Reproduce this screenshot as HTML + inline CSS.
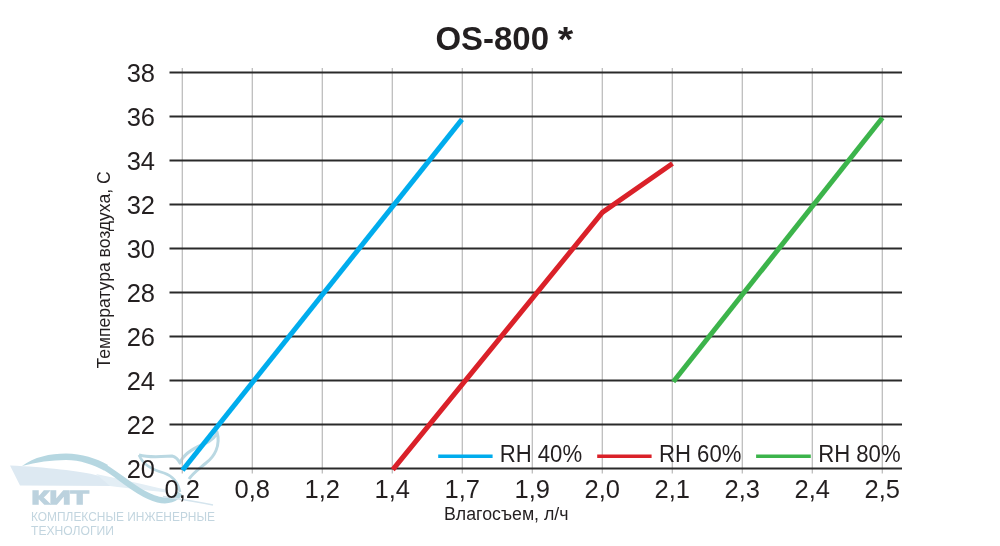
<!DOCTYPE html>
<html><head><meta charset="utf-8">
<style>
html,body{margin:0;padding:0;background:#fff;width:1000px;height:546px;overflow:hidden}
svg{display:block;will-change:transform}
text{font-family:"Liberation Sans",sans-serif;fill:#231f20}
</style></head>
<body>
<svg width="1000" height="546" viewBox="0 0 1000 546">
<!-- watermark logo -->
<g id="logo">
  <path d="M10,465.5 C45,467 80,471 98,475.5 C105,478 111,482 115,486 L20,485.5 Z" fill="#dde9f2"/>
  <path d="M96,474 C125,480 150,486 168,490 L166,492.5 C145,490 125,488 110,486 Z" fill="#e3eef5"/>
  <path d="M22,466 C34,457 50,453.5 66,453.5 C82,454 96,458 108,465 L104,470.5 C94,465 80,460 66,460 C52,460 36,462 22,466 Z" fill="#b6d7e1"/>
  <path d="M105,467.5 C120,476 138,494 158,499.5 C168,502 176,499 180,493" fill="none" stroke="#b6d7e1" stroke-width="6"/>
  <path d="M163,496.5 C180,499 198,502 213,505" fill="none" stroke="#d5e5ee" stroke-width="1.6"/>
  <path d="M139,455 C150,458 162,456.5 172,456 C176,457 178.5,460 180,463 C183,455 194,448 204,444 C211,441 216,437 217,432 C221,446 214,457 206,463 C199,469 193,473 189,479" fill="none" stroke="#bad8e2" stroke-width="3" stroke-linejoin="round"/>
  <path d="M139,455 C143,465 153,470 164,473 C173,476 178,482 180,492" fill="none" stroke="#bad8e2" stroke-width="2.6"/>
  <text x="31.6" y="504" font-size="18.6" font-weight="bold" style="fill:#bcd2de;stroke:#bcd2de;stroke-width:1.3" textLength="57" lengthAdjust="spacingAndGlyphs">КИТ</text>
  <text x="31" y="520.8" font-size="12" style="fill:#c2d5df" textLength="184" lengthAdjust="spacingAndGlyphs">КОМПЛЕКСНЫЕ ИНЖЕНЕРНЫЕ</text>
  <text x="31" y="534.5" font-size="12.5" style="fill:#c2d5df" textLength="83" lengthAdjust="spacingAndGlyphs">ТЕХНОЛОГИИ</text>
</g>
<!-- title -->
<text x="435.5" y="49.6" font-size="33" font-weight="bold" textLength="113.5" lengthAdjust="spacingAndGlyphs">OS-800</text>
<text x="557.8" y="50.5" font-size="35" font-weight="bold" textLength="15.5" lengthAdjust="spacingAndGlyphs">*</text>
<!-- vertical grid -->
<g stroke="#bdbdbd" stroke-width="1.3">
  <line x1="182.3" y1="68" x2="182.3" y2="473.5"/>
  <line x1="252.3" y1="68" x2="252.3" y2="473.5"/>
  <line x1="322.3" y1="68" x2="322.3" y2="473.5"/>
  <line x1="392.3" y1="68" x2="392.3" y2="473.5"/>
  <line x1="462.3" y1="68" x2="462.3" y2="473.5"/>
  <line x1="532.3" y1="68" x2="532.3" y2="473.5"/>
  <line x1="602.3" y1="68" x2="602.3" y2="473.5"/>
  <line x1="672.3" y1="68" x2="672.3" y2="473.5"/>
  <line x1="742.3" y1="68" x2="742.3" y2="473.5"/>
  <line x1="812.3" y1="68" x2="812.3" y2="473.5"/>
  <line x1="882.3" y1="68" x2="882.3" y2="473.5"/>
</g>
<!-- horizontal lines -->
<g stroke="#2a2a2a" stroke-width="1.8">
  <line x1="169.5" y1="72.5" x2="902" y2="72.5"/>
  <line x1="169.5" y1="116.5" x2="902" y2="116.5"/>
  <line x1="169.5" y1="160.5" x2="902" y2="160.5"/>
  <line x1="169.5" y1="204.5" x2="902" y2="204.5"/>
  <line x1="169.5" y1="248.5" x2="902" y2="248.5"/>
  <line x1="169.5" y1="292.5" x2="902" y2="292.5"/>
  <line x1="169.5" y1="336.5" x2="902" y2="336.5"/>
  <line x1="169.5" y1="380.5" x2="902" y2="380.5"/>
  <line x1="169.5" y1="424.5" x2="902" y2="424.5"/>
  <line x1="169.5" y1="468.5" x2="902" y2="468.5"/>
</g>
<!-- y labels -->
<g font-size="25.5" text-anchor="end">
  <text x="155" y="82">38</text>
  <text x="155" y="126">36</text>
  <text x="155" y="170">34</text>
  <text x="155" y="214">32</text>
  <text x="155" y="258">30</text>
  <text x="155" y="302">28</text>
  <text x="155" y="346">26</text>
  <text x="155" y="390">24</text>
  <text x="155" y="434">22</text>
  <text x="155" y="478">20</text>
</g>
<!-- x labels -->
<g font-size="25.5" text-anchor="middle">
  <text x="182.3" y="497.6">0,2</text>
  <text x="252.3" y="497.6">0,8</text>
  <text x="322.3" y="497.6">1,2</text>
  <text x="392.3" y="497.6">1,4</text>
  <text x="462.3" y="497.6">1,7</text>
  <text x="532.3" y="497.6">1,9</text>
  <text x="602.3" y="497.6">2,0</text>
  <text x="672.3" y="497.6">2,1</text>
  <text x="742.3" y="497.6">2,3</text>
  <text x="812.3" y="497.6">2,4</text>
  <text x="882.3" y="497.6">2,5</text>
</g>
<!-- axis titles -->
<text x="444" y="519.5" font-size="18" textLength="124.5" lengthAdjust="spacingAndGlyphs">Влагосъем, л/ч</text>
<text transform="translate(110.4,368.6) rotate(-90)" x="0" y="0" font-size="17.8" textLength="197.2" lengthAdjust="spacingAndGlyphs">Температура воздуха, С</text>
<!-- data -->
<g fill="none" stroke-width="5" stroke-linejoin="round">
  <polyline points="182.5,470.3 462,119.4" stroke="#00aced"/>
  <polyline points="392.8,469.7 602.4,212.4 672.5,163.5" stroke="#da2129"/>
  <polyline points="673.3,381.8 882.5,117.8" stroke="#3cb44b"/>
</g>
<!-- legend -->
<g stroke-width="3.4">
  <line x1="438.2" y1="456.3" x2="492.6" y2="456.3" stroke="#00aced"/>
  <line x1="597.2" y1="456.3" x2="651.6" y2="456.3" stroke="#da2129"/>
  <line x1="756.1" y1="456.3" x2="810.8" y2="456.3" stroke="#3cb44b"/>
</g>
<g font-size="24.3">
  <text x="499.7" y="462.4" textLength="82.4" lengthAdjust="spacingAndGlyphs">RH 40%</text>
  <text x="659" y="462.4" textLength="82.4" lengthAdjust="spacingAndGlyphs">RH 60%</text>
  <text x="818.2" y="462.4" textLength="82.4" lengthAdjust="spacingAndGlyphs">RH 80%</text>
</g>
</svg>
</body></html>
